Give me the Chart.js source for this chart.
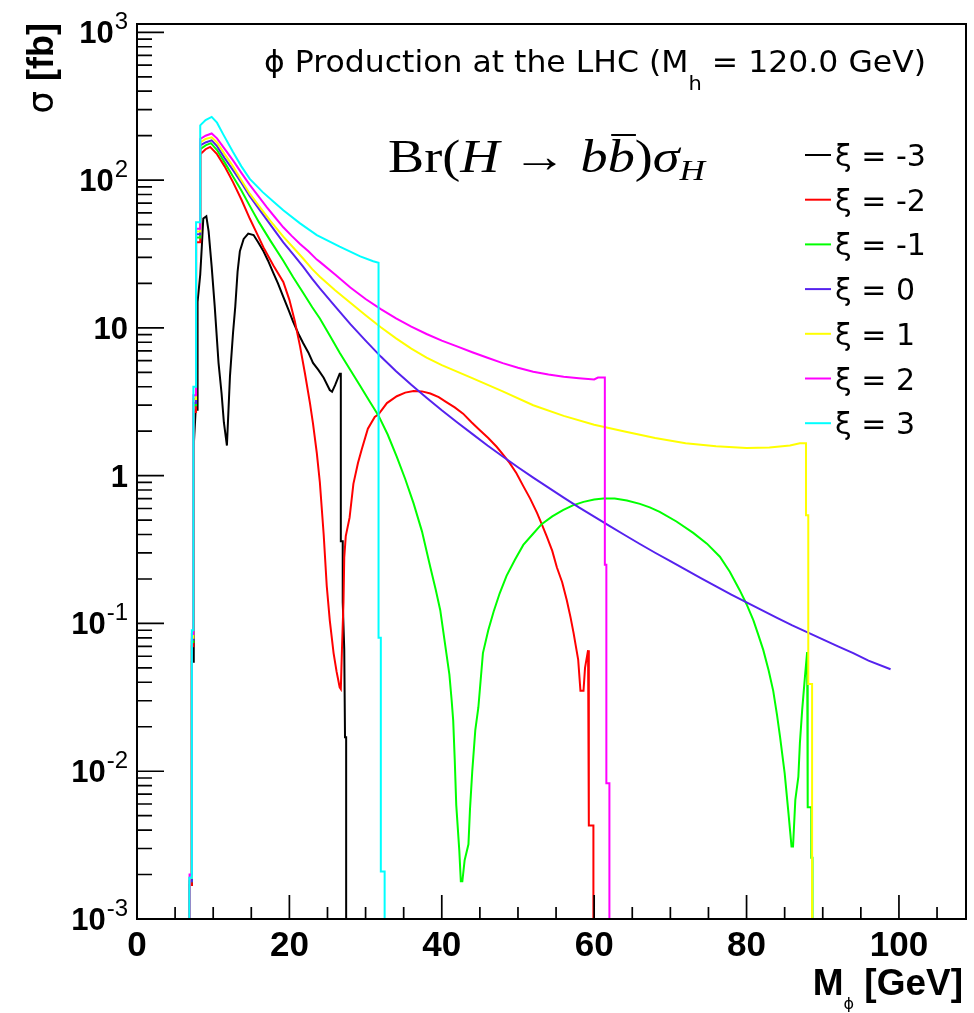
<!DOCTYPE html>
<html lang="en">
<head>
<meta charset="UTF-8">
<title>phi production at the LHC</title>
<script src="https://cdn.jsdelivr.net/npm/chart.js"></script>
<style>
  html, body { margin: 0; padding: 0; background: #fff; }
  #wrap { width: 974px; height: 1013px; position: relative; }
</style>
</head>
<body>
<div id="wrap"><canvas id="xsec"></canvas></div>
<script>
// legend labels and line colours (ROOT colours 1..7)
const xiLabels = ['ξ = -3', 'ξ = -2', 'ξ = -1', 'ξ = 0', 'ξ = 1', 'ξ = 2', 'ξ = 3'];
const xiColors = ['#000000', '#ff0000', '#00ff00', '#5522ee', '#ffff00', '#ff00ff', '#00ffff'];

// sigma [fb] vs M_phi [GeV]
const xiM3 = [[6.9,0.001],[6.9,0.0017],[7.2,0.0017],[7.2,0.055],[7.45,0.055],[7.45,1.6],[7.7,2.8],[7.95,2.8],[7.95,15],[8.3,23],[8.5,35],[8.7,55],[9.1,57],[9.4,45],[9.8,26],[10.2,14],[10.7,5.8],[11.1,3.6],[11.4,2.3],[11.8,1.6],[12.2,4.7],[12.6,9.2],[12.9,14],[13.2,24],[13.5,33],[14.0,40],[14.6,43.5],[15.3,42.5],[15.9,38],[16.6,33],[17.2,28.5],[17.9,23.5],[18.5,20],[19.2,16.2],[19.9,13.2],[20.5,11],[21.2,9.1],[21.8,7.9],[22.5,6.8],[23.1,5.8],[23.8,5.2],[24.5,4.6],[25.3,3.8],[25.6,3.7],[26.0,4.1],[26.6,4.9],[26.75,4.9],[26.75,0.36],[27.0,0.36],[27.0,0.14],[27.2,0.067],[27.3,0.017],[27.45,0.017],[27.45,0.001]];
const xiM2 = [[6.9,0.001],[6.9,0.0017],[7.2,0.0017],[7.2,0.07],[7.4,0.07],[7.4,2.7],[7.75,2.7],[7.75,38],[8.3,38],[8.3,150],[9.0,162],[9.6,168],[10.5,150],[11.5,124],[12.6,97],[13.7,74],[14.8,55],[15.7,44],[16.6,35],[17.9,26.5],[19.2,20.5],[20.0,15.5],[20.7,11.2],[21.4,7.5],[22.05,4.9],[22.7,3.1],[23.1,2.25],[23.6,1.42],[24.0,0.9],[24.5,0.4],[24.9,0.18],[25.3,0.105],[25.8,0.063],[26.2,0.047],[26.6,0.037],[26.75,0.036],[26.9,0.067],[27.1,0.14],[27.2,0.28],[27.4,0.39],[27.9,0.52],[28.4,0.88],[29.0,1.22],[29.5,1.51],[30.3,2.08],[31.2,2.5],[31.7,2.6],[32.8,3.1],[34.1,3.45],[35.2,3.65],[36.3,3.74],[37.4,3.72],[38.5,3.6],[39.6,3.4],[40.6,3.15],[41.7,2.9],[42.8,2.63],[43.9,2.3],[45.0,2.03],[46.1,1.8],[47.2,1.57],[48.1,1.38],[48.9,1.22],[49.8,1.04],[50.7,0.85],[51.6,0.7],[52.5,0.56],[53.2,0.46],[53.8,0.385],[54.5,0.31],[55.1,0.24],[55.8,0.19],[56.4,0.144],[56.9,0.11],[57.3,0.086],[57.6,0.07],[57.9,0.057],[58.2,0.035],[58.6,0.035],[58.8,0.05],[59.2,0.066],[59.3,0.066],[59.3,0.0043],[59.9,0.0043],[59.9,0.001]];
const xiM1 = [[6.9,0.001],[6.9,0.0018],[7.2,0.0018],[7.2,0.075],[7.4,0.075],[7.4,3.0],[7.75,3.0],[7.75,41],[8.3,41],[8.3,162],[9.0,172],[9.7,178],[10.5,160],[11.5,132],[12.6,106],[13.7,85],[14.8,67],[16.0,52],[17.5,39],[19.2,28.5],[20.5,22],[21.8,17.3],[23.0,13.8],[24.0,11.6],[25.3,8.9],[26.6,6.8],[28.0,5.2],[29.3,4.05],[30.5,3.2],[31.7,2.55],[32.9,1.9],[34.1,1.34],[35.2,0.95],[36.3,0.65],[37.4,0.42],[38.5,0.24],[39.2,0.17],[39.8,0.123],[40.6,0.063],[41.0,0.045],[41.3,0.03],[41.5,0.022],[41.7,0.012],[41.9,0.0059],[42.3,0.0029],[42.5,0.0018],[42.7,0.0018],[43.0,0.0025],[43.5,0.0032],[43.7,0.0055],[44.0,0.01],[44.4,0.019],[44.8,0.027],[45.4,0.063],[46.1,0.09],[46.8,0.12],[47.6,0.16],[48.5,0.21],[49.6,0.27],[50.7,0.34],[51.9,0.40],[53.1,0.47],[54.5,0.53],[55.9,0.585],[57.2,0.63],[58.6,0.665],[60.0,0.69],[61.2,0.7],[62.7,0.7],[64.3,0.68],[66.0,0.645],[67.3,0.61],[68.6,0.57],[70.8,0.49],[73.0,0.41],[74.8,0.347],[76.5,0.283],[77.8,0.224],[79.1,0.168],[80.0,0.135],[80.9,0.105],[81.5,0.085],[82.2,0.066],[82.9,0.048],[83.5,0.035],[84.0,0.024],[84.4,0.017],[85.0,0.0097],[85.5,0.0052],[85.9,0.0031],[86.1,0.0031],[86.4,0.0064],[86.8,0.0092],[87.0,0.0155],[87.3,0.026],[87.7,0.046],[87.95,0.064],[88.0,0.03],[88.05,0.0057],[88.5,0.0057],[88.5,0.0026],[88.65,0.0026],[88.65,0.001]];
const xi0 = [[6.9,0.001],[6.9,0.0018],[7.2,0.0018],[7.2,0.078],[7.4,0.078],[7.4,3.1],[7.75,3.1],[7.75,43],[8.3,43],[8.3,172],[9.0,180],[9.8,186],[10.5,170],[11.5,141],[12.6,117],[13.7,96],[14.8,78],[16.0,64],[17.5,50],[19.2,38],[20.5,31.5],[21.8,26],[23.0,21.5],[24.0,18.5],[26.0,14.0],[28.0,10.6],[30.0,8.2],[32.0,6.4],[34.0,5.1],[36.0,4.12],[38.0,3.37],[40.0,2.77],[42.0,2.3],[44.0,1.92],[46.0,1.6],[48.0,1.35],[50.0,1.14],[52.0,0.97],[54.0,0.83],[56.0,0.71],[58.0,0.61],[60.0,0.528],[62.0,0.457],[64.0,0.397],[66.0,0.345],[68.0,0.301],[70.0,0.264],[72.0,0.231],[74.0,0.203],[76.0,0.178],[78.0,0.157],[80.0,0.139],[82.0,0.123],[84.0,0.109],[86.0,0.097],[88.0,0.087],[90.0,0.078],[92.0,0.07],[94.0,0.063],[96.0,0.056],[98.9,0.049]];
const xiP1 = [[6.9,0.001],[6.9,0.0019],[7.2,0.0019],[7.2,0.08],[7.4,0.08],[7.4,3.3],[7.75,3.3],[7.75,45],[8.3,45],[8.3,180],[9.0,190],[9.8,195],[10.5,180],[11.5,150],[12.6,124],[13.7,100],[14.8,81],[16.0,67],[17.5,53],[19.2,41.5],[20.5,35],[21.8,29.5],[23.0,25],[24.0,22.2],[26.0,18.0],[28.0,14.8],[30.0,12.2],[32.0,10.1],[34.0,8.5],[36.0,7.24],[38.0,6.3],[40.0,5.6],[44.0,4.57],[48.0,3.72],[52.0,3.0],[56.0,2.54],[60.0,2.21],[64.0,1.99],[68.0,1.8],[72.0,1.66],[76.0,1.58],[80.0,1.54],[83.0,1.55],[85.7,1.6],[87.0,1.66],[87.8,1.66],[87.8,0.54],[88.1,0.54],[88.1,0.039],[88.6,0.039],[88.6,0.001]];
const xiP2 = [[6.9,0.001],[6.9,0.002],[7.2,0.002],[7.2,0.085],[7.4,0.085],[7.4,3.5],[7.75,3.5],[7.75,47],[8.3,47],[8.3,190],[9.0,200],[9.8,207],[10.5,192],[11.5,163],[12.6,136],[13.7,112],[14.8,93],[16.0,77],[17.0,66],[18.0,57],[19.2,48],[20.3,42],[21.4,37],[22.5,33],[23.6,29],[24.0,28],[26.0,23],[28.0,18.8],[30.0,15.7],[32.0,13.4],[34.0,11.6],[36.0,10.2],[38.0,9.1],[40.0,8.2],[42.0,7.5],[44.0,6.85],[46.0,6.28],[48.0,5.78],[50.0,5.38],[52.0,5.06],[54.0,4.84],[56.0,4.68],[58.0,4.57],[60.0,4.48],[60.5,4.62],[61.4,4.62],[61.4,0.25],[61.6,0.25],[61.6,0.0083],[62.0,0.0083],[62.0,0.001]];
const xiP3 = [[6.87,0.001],[6.87,0.0019],[7.2,0.0019],[7.2,0.09],[7.4,0.09],[7.4,4.0],[7.75,4.0],[7.75,52],[8.3,52],[8.3,235],[9.0,255],[9.8,268],[10.5,245],[11.3,205],[12.6,155],[13.7,124],[14.8,102],[16.5,83],[18.0,71],[19.2,62.5],[21.4,51],[23.6,42.5],[26.6,35.5],[29.3,30.5],[31.0,28.3],[31.7,27.6],[31.7,0.08],[32.0,0.08],[32.0,0.0021],[32.5,0.0021],[32.5,0.001]];
const curves = [xiM3, xiM2, xiM1, xi0, xiP1, xiP2, xiP3];

// axes
const xMin = 0, xMax = 108.8;
const yMin = 0.001, yMax = 1140;
const xMajorTicks = [0, 20, 40, 60, 80, 100];
const xMinorStep = 5;
const yDecades = [-3, -2, -1, 0, 1, 2, 3];
const yTickLabels = [['10', '-3'], ['10', '-2'], ['10', '-1'], ['1', ''], ['10', ''], ['10', '2'], ['10', '3']];

const BOLD = '"Liberation Sans", Arial, sans-serif';
const REG = '"DejaVu Sans", sans-serif';
const SERIF = '"Liberation Serif", "DejaVu Serif", serif';

// draw a run of [text, font, dy] pieces, squeezed/stretched to a target width
function drawRun(ctx, pieces, x, y, targetW) {
  let w = 0;
  pieces.forEach(p => { ctx.font = p[1]; p.w = ctx.measureText(p[0]).width; w += p.w; });
  const sx = targetW ? targetW / w : 1;
  ctx.save();
  ctx.translate(x, y);
  ctx.scale(sx, 1);
  let cx = 0;
  pieces.forEach(p => {
    ctx.font = p[1];
    ctx.fillText(p[0], cx, p[2] || 0);
    if (p[3]) p[3](ctx, cx, p.w);
    cx += p.w;
  });
  ctx.restore();
}

const rootFrame = {
  id: 'rootFrame',
  afterDatasetsDraw(chart) {
    const { ctx, chartArea: a, scales: { x, y } } = chart;
    ctx.save();
    ctx.fillStyle = '#000';
    ctx.strokeStyle = '#000';

    // frame
    ctx.lineWidth = 2;
    ctx.strokeRect(a.left, a.top, a.right - a.left, a.bottom - a.top);

    // ticks, pointing inwards
    ctx.lineWidth = 1.7;
    ctx.beginPath();
    yDecades.forEach(d => {
      let py = y.getPixelForValue(Math.pow(10, d));
      ctx.moveTo(a.left, py); ctx.lineTo(a.left + 27, py);
      for (let k = 2; k <= 9; k++) {
        const v = k * Math.pow(10, d);
        if (v > yMax) break;
        py = y.getPixelForValue(v);
        ctx.moveTo(a.left, py); ctx.lineTo(a.left + 15, py);
      }
    });
    for (let v = xMinorStep; v < xMax; v += xMinorStep) {
      const px = x.getPixelForValue(v);
      const len = xMajorTicks.includes(v) ? 24 : 12;
      ctx.moveTo(px, a.bottom); ctx.lineTo(px, a.bottom - len);
    }
    ctx.stroke();

    // y tick labels
    ctx.textBaseline = 'alphabetic';
    yDecades.forEach((d, i) => {
      const py = y.getPixelForValue(Math.pow(10, d));
      const [base, exp] = yTickLabels[i];
      ctx.textAlign = 'right';
      let right = 128;
      if (exp) {
        ctx.font = '24px ' + BOLD;
        ctx.fillText(exp, right, py - 3);
        right -= ctx.measureText(exp).width + 1;
      }
      ctx.font = 'bold 31px ' + BOLD;
      ctx.fillText(base, right, py + 11);
    });

    // x tick labels
    ctx.textAlign = 'center';
    ctx.font = 'bold 35px ' + BOLD;
    xMajorTicks.forEach(v => ctx.fillText(String(v), x.getPixelForValue(v), 956));

    // x axis title, right aligned
    ctx.textAlign = 'left';
    ctx.font = 'bold 37px ' + BOLD;
    const wM = ctx.measureText('M').width, wRest = ctx.measureText(' [GeV]').width;
    ctx.font = '16px ' + REG;
    const wSub = ctx.measureText('ϕ').width;
    const x0 = 963 - wRest - wSub - wM;
    ctx.font = 'bold 37px ' + BOLD; ctx.fillText('M', x0, 995);
    ctx.font = '16px ' + REG; ctx.fillText('ϕ', x0 + wM, 1009);
    ctx.font = 'bold 37px ' + BOLD; ctx.fillText(' [GeV]', x0 + wM + wSub, 995);

    // y axis title, rotated
    ctx.save();
    ctx.translate(53, 23);
    ctx.rotate(-Math.PI / 2);
    ctx.textAlign = 'right';
    ctx.font = 'bold 36px ' + BOLD;
    const wFb = ctx.measureText(' [fb]').width;
    ctx.fillText(' [fb]', 0, 0);
    ctx.font = '36px ' + REG;
    ctx.fillText('σ', -wFb, 0);
    ctx.restore();

    // title text inside the frame
    ctx.textAlign = 'left';
    drawRun(ctx, [
      ['ϕ Production at the LHC (M', '30px ' + REG],
      ['h', '20px ' + REG, 18],
      [' = 120.0 GeV)', '30px ' + REG]
    ], 264, 72, 662);

    // Br(H -> b bbar) sigma_H
    const bar = (c, cx, w) => {
      c.save(); c.lineWidth = 2; c.beginPath();
      c.moveTo(cx + 3, -37); c.lineTo(cx + w + 1, -37); c.stroke(); c.restore();
    };
    drawRun(ctx, [
      ['Br(', '46px ' + SERIF],
      ['H', 'italic 46px ' + SERIF],
      [' → ', '46px ' + SERIF],
      ['b', 'italic 46px ' + SERIF],
      ['b', 'italic 46px ' + SERIF, 0, bar],
      [')', '46px ' + SERIF],
      ['σ', 'italic 46px ' + SERIF],
      ['H', 'italic 30px ' + SERIF, 8]
    ], 388, 172, 317);

    // legend
    chart.data.datasets.forEach((ds, i) => {
      const cy = 155 + i * 44.7;
      ctx.strokeStyle = ds.borderColor;
      ctx.lineWidth = 2;
      ctx.beginPath(); ctx.moveTo(805, cy); ctx.lineTo(831, cy); ctx.stroke();
      ctx.font = '30px ' + REG;
      ctx.fillText(ds.label, 835, cy + 11);
    });
    ctx.restore();
  }
};

new Chart(document.getElementById('xsec'), {
  type: 'line',
  data: {
    datasets: curves.map((c, i) => ({
      label: xiLabels[i],
      data: c.map(([m, s]) => ({ x: m, y: s })),
      borderColor: xiColors[i],
      borderWidth: 2,
      pointRadius: 0,
      tension: 0,
      fill: false,
      order: curves.length - i
    }))
  },
  options: {
    responsive: true,
    maintainAspectRatio: false,
    animation: false,
    events: [],
    layout: { padding: { left: 137, top: 24, right: 8, bottom: 94 } },
    plugins: { legend: { display: false }, tooltip: { enabled: false } },
    scales: {
      x: { type: 'linear', min: xMin, max: xMax, display: false },
      y: { type: 'logarithmic', min: yMin, max: yMax, display: false }
    }
  },
  plugins: [rootFrame]
});
</script>
</body>
</html>
